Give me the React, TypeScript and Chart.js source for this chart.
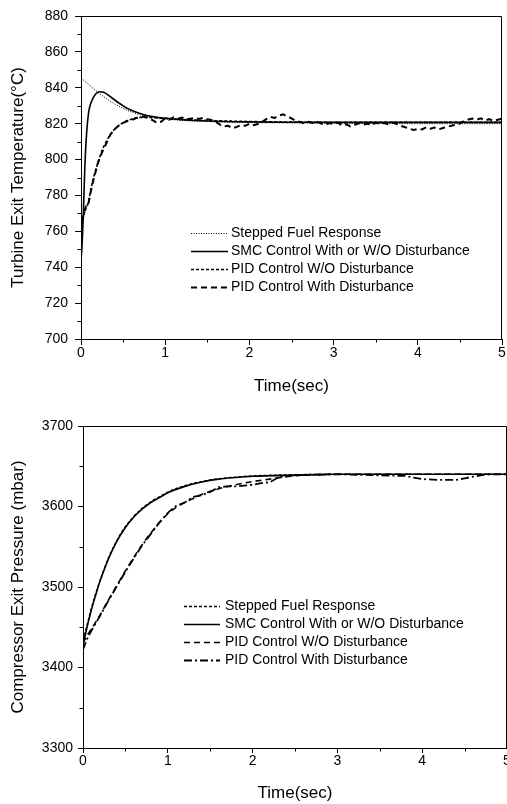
import React, { useEffect, useRef } from 'react';
import { Chart, registerables } from 'chart.js';

Chart.register(...registerables);

const FONT = "'Liberation Sans', Arial, Helvetica, sans-serif";

// ---------- Top chart: turbine exit temperature ----------
const tempTitle = 'Turbine Exit Temperature(°C)';
const timeTitle = 'Time(sec)';
const timeTicks = [0, 1, 2, 3, 4, 5];
const timeMinorTicks = [0.5, 1.5, 2.5, 3.5, 4.5];
const tempTicks = [700, 720, 740, 760, 780, 800, 820, 840, 860, 880];
const tempMinorTicks = [710, 730, 750, 770, 790, 810, 830, 850, 870];

const tempLabels = [
  'Stepped Fuel Response',
  'SMC Control With or W/O Disturbance',
  'PID Control W/O Disturbance',
  'PID Control With Disturbance',
];

const stepTime = [0, 0.1, 0.2, 0.3, 0.4, 0.5, 0.6, 0.7, 0.8, 0.9, 1.0, 1.2, 1.5, 2, 2.5, 3, 4, 5];
const stepTemp = [845.5, 841.5, 837.5, 834, 831, 828.5, 826.5, 825, 824, 823.2, 822.6, 821.8, 821.2, 820.6, 820.4, 820.2, 820, 820];

const smcTime = [0, 0.01, 0.02, 0.03, 0.045, 0.067, 0.09, 0.107, 0.146, 0.18, 0.22, 0.27, 0.35, 0.45, 0.55, 0.65, 0.75, 0.85, 1.0, 1.2, 1.5, 2, 2.5, 3, 4, 5];
const smcTemp = [744, 750, 760, 773, 795, 815, 826, 830, 834.5, 836.8, 837.8, 837.5, 835, 831.5, 828.5, 826.5, 825, 824, 823, 822.2, 821.5, 821, 820.8, 820.7, 820.7, 820.7];

const pidTime = [0, 0.02, 0.04, 0.06, 0.08, 0.1, 0.12, 0.15, 0.2, 0.25, 0.3, 0.35, 0.4, 0.45, 0.5, 0.6, 0.7, 0.8, 0.9, 1.0, 1.2, 1.5, 2, 2.5, 3, 4, 5];
const pidTemp = [758, 766, 770, 773, 775, 779, 784, 790, 798, 805, 810, 814, 817, 819, 820.5, 822.5, 823.5, 823.5, 823.2, 823, 822.3, 821.8, 821.2, 820.9, 820.7, 820.7, 820.7];

const pidDistTime = [
  0, 0.02, 0.04, 0.06, 0.08, 0.1, 0.12, 0.15, 0.2, 0.25, 0.3, 0.35, 0.4, 0.45, 0.5, 0.55, 0.6, 0.65, 0.7, 0.75, 0.8, 0.85, 0.9, 0.95,
  1.0, 1.05, 1.1, 1.15, 1.2, 1.25, 1.3, 1.35, 1.4, 1.45, 1.5, 1.55, 1.6, 1.65, 1.7, 1.75, 1.8, 1.85, 1.9, 1.95,
  2.0, 2.05, 2.1, 2.15, 2.2, 2.25, 2.3, 2.35, 2.4, 2.45, 2.5, 2.55, 2.6, 2.65, 2.7, 2.75, 2.8, 2.85, 2.9, 2.95,
  3.0, 3.05, 3.1, 3.15, 3.2, 3.25, 3.3, 3.35, 3.4, 3.45, 3.5, 3.55, 3.6, 3.65, 3.7, 3.75, 3.8, 3.85, 3.9, 3.95,
  4.0, 4.05, 4.1, 4.15, 4.2, 4.25, 4.3, 4.35, 4.4, 4.45, 4.5, 4.55, 4.6, 4.65, 4.7, 4.75, 4.8, 4.85, 4.9, 4.95, 5.0,
];
const pidDistTemp = [
  760, 767, 771, 774, 774, 778, 783, 789, 798, 804, 809, 814, 817, 819, 820.5, 821.5, 822, 823, 823.5, 824, 823, 822, 820.5, 821,
  823, 822.2, 823.5, 822.8, 823.4, 822.3, 822.8, 823.2, 822.6, 823.3, 822.4, 822, 821, 819.5, 818.5, 818.8, 817.5, 818.2, 819.2, 818.8,
  820, 819.2, 819.8, 821, 822.5, 823.8, 823.2, 824.5, 825.2, 824, 823, 821.5, 821, 820.2, 821, 820.4, 821.2, 820, 819.4, 820.3,
  819.8, 820.6, 819, 819.6, 818.5, 819.4, 820.2, 819.5, 820, 819.2, 820.5, 819.8, 820.4, 819.6, 820.6, 819.8, 818.8, 818, 817.2, 816.5,
  817, 816.8, 818, 817.2, 817.8, 816.9, 817.6, 818.3, 818.8, 819.5, 820, 821.5, 822.3, 822.8, 822.2, 823, 821.8, 822.5, 821.5, 822.2, 822.8,
];

// ---------- Bottom chart: compressor exit pressure ----------
const pressTitle = 'Compressor Exit Pressure (mbar)';
const pressTicks = [3300, 3400, 3500, 3600, 3700];
const pressMinorTicks = [3350, 3450, 3550, 3650];

const pressLabels = [
  'Stepped Fuel Response',
  'SMC Control With or W/O Disturbance',
  'PID Control W/O Disturbance',
  'PID Control With Disturbance',
];

const pressFastTime = [0, 0.05, 0.1, 0.15, 0.2, 0.3, 0.4, 0.5, 0.6, 0.7, 0.8, 0.9, 1.0, 1.2, 1.4, 1.6, 1.8, 2.0, 2.5, 3, 4, 5];
const pressStep = [3434, 3454, 3474, 3492, 3508, 3536, 3558, 3575, 3588, 3598, 3606, 3612, 3618, 3626, 3631, 3634.5, 3636.5, 3638, 3639.5, 3640, 3640, 3640];
const pressSmc = [3428, 3451, 3472, 3490, 3507, 3535, 3557, 3574, 3587, 3597, 3605, 3611, 3617, 3625, 3630.5, 3634, 3636, 3637.5, 3639, 3640, 3640, 3640];

const pressPidTime = [0, 0.05, 0.1, 0.2, 0.3, 0.4, 0.5, 0.6, 0.7, 0.8, 0.9, 1.0, 1.1, 1.2, 1.3, 1.4, 1.6, 1.8, 2.0, 2.2, 2.4, 2.6, 3, 4, 5];
const pressPid = [3430, 3440, 3448, 3465, 3484, 3502, 3520, 3537, 3553, 3567, 3580, 3591, 3599, 3605, 3610, 3615, 3622, 3627, 3631, 3634, 3637, 3639, 3640, 3640, 3640];

const pressPidDistTime = [0, 0.05, 0.1, 0.2, 0.3, 0.4, 0.5, 0.6, 0.7, 0.8, 0.9, 1.0, 1.1, 1.2, 1.3, 1.4, 1.5, 1.6, 1.7, 1.8, 1.9, 2.0, 2.1, 2.2, 2.3, 2.4, 2.6, 3.0, 3.4, 3.8, 3.9, 4.0, 4.2, 4.4, 4.5, 4.6, 4.7, 4.8, 5.0];
const pressPidDist = [3422, 3436, 3446, 3464, 3483, 3501, 3519, 3536, 3552, 3566, 3580, 3592, 3601, 3605, 3612, 3614, 3618, 3624, 3625, 3625, 3626, 3627, 3629, 3630, 3636, 3638, 3639, 3640, 3639, 3638, 3636, 3634, 3633, 3633, 3635, 3637, 3639, 3640, 3640];

// ---------- helpers ----------
const pts = (xs: number[], ys: number[]) => xs.map((x, i) => ({ x, y: ys[i] }));

const framePlugin = {
  id: 'frame',
  afterDraw(chart: any) {
    const { ctx, chartArea: a } = chart;
    ctx.save();
    ctx.strokeStyle = '#000';
    ctx.lineWidth = 1;
    ctx.setLineDash([]);
    const t = Math.round(a.top) + 0.5;
    const r = Math.round(a.right) - 0.5;
    ctx.beginPath();
    ctx.moveTo(a.left, t);
    ctx.lineTo(r, t);
    ctx.lineTo(r, a.bottom);
    ctx.stroke();
    ctx.restore();
  },
};

const minorTickPlugin = {
  id: 'minorTicks',
  afterDraw(chart: any, _args: any, opts: any) {
    const { ctx, chartArea: a, scales } = chart;
    ctx.save();
    ctx.strokeStyle = '#000';
    ctx.lineWidth = 1;
    ctx.setLineDash([]);
    ctx.beginPath();
    for (const v of opts.x || []) {
      const px = Math.round(scales.x.getPixelForValue(v)) + 0.5;
      ctx.moveTo(px, a.bottom);
      ctx.lineTo(px, a.bottom + opts.len);
    }
    for (const v of opts.y || []) {
      const py = Math.round(scales.y.getPixelForValue(v)) + 0.5;
      ctx.moveTo(a.left, py);
      ctx.lineTo(a.left - opts.len, py);
    }
    ctx.stroke();
    ctx.restore();
  },
};

const innerLegendPlugin = {
  id: 'innerLegend',
  afterDraw(chart: any, _args: any, opts: any) {
    const { ctx, chartArea: a } = chart;
    chart.data.datasets.forEach((ds: any, i: number) => {
      const y = Math.round(a.top + opts.y + i * opts.row) + 0.5;
      const x0 = a.left + opts.x;
      ctx.save();
      ctx.strokeStyle = '#000';
      ctx.lineWidth = ds.borderWidth;
      ctx.setLineDash(ds.borderDash || []);
      ctx.beginPath();
      ctx.moveTo(x0, y);
      ctx.lineTo(x0 + opts.len, y);
      ctx.stroke();
      ctx.setLineDash([]);
      ctx.fillStyle = '#000';
      ctx.font = `14px ${FONT}`;
      ctx.textBaseline = 'middle';
      ctx.fillText(ds.label, x0 + opts.len + opts.gap, y);
      ctx.restore();
    });
  },
};

function makeScales(o: any) {
  return {
    x: {
      type: 'linear',
      min: 0,
      max: 5,
      afterBuildTicks: (s: any) => {
        s.ticks = timeTicks.map((v) => ({ value: v }));
      },
      ticks: {
        color: '#000', font: { family: FONT, size: 14 }, padding: o.xPad, maxRotation: 0, autoSkip: false,
        callback: (v: any) => String(v),
      },
      grid: { drawOnChartArea: false, color: '#000', tickLength: o.tick },
      border: { display: true, color: '#000', width: 1 },
      title: { display: true, text: timeTitle, color: '#000', font: { family: FONT, size: 17 }, padding: { top: 0, bottom: o.xTitlePad } },
      afterFit: (s: any) => {
        s.height = o.xHeight;
        s.paddingLeft = 0;
        s.paddingRight = 0;
      },
    },
    y: {
      type: 'linear',
      min: o.yMin,
      max: o.yMax,
      afterBuildTicks: (s: any) => {
        s.ticks = o.yTicks.map((v: number) => ({ value: v }));
      },
      ticks: {
        color: '#000', font: { family: FONT, size: 14 }, padding: o.yPad, autoSkip: false,
        callback: (v: any) => String(v),
      },
      grid: { drawOnChartArea: false, color: '#000', tickLength: o.tick },
      border: { display: true, color: '#000', width: 1 },
      title: { display: true, text: o.yTitle, color: '#000', font: { family: FONT, size: 17 }, padding: { top: 8, bottom: 0 } },
      afterFit: (s: any) => {
        s.width = o.yWidth;
        s.paddingTop = 0;
        s.paddingBottom = 0;
      },
    },
  };
}

const line = (label: string, data: any[], width: number, dash: number[], smooth: boolean) => ({
  label,
  data,
  borderColor: '#000',
  backgroundColor: '#000',
  borderWidth: width,
  borderDash: dash,
  pointRadius: 0,
  fill: false,
  tension: smooth ? 0.4 : 0,
  cubicInterpolationMode: smooth ? 'monotone' : 'default',
});

function tempConfig(): any {
  return {
    type: 'line',
    data: {
      datasets: [
        line(tempLabels[0], pts(stepTime, stepTemp), 1, [1, 1.5], true),
        line(tempLabels[1], pts(smcTime, smcTemp), 1.6, [], true),
        line(tempLabels[2], pts(pidTime, pidTemp), 1.6, [3, 2], true),
        line(tempLabels[3], pts(pidDistTime, pidDistTemp), 2, [6, 4], false),
      ],
    },
    options: {
      animation: false,
      responsive: false,
      layout: { padding: { left: 0, right: 5, top: 16, bottom: 0 } },
      scales: makeScales({
        yMin: 700, yMax: 880, yTicks: tempTicks, yTitle: tempTitle,
        tick: 6, xPad: 0, yPad: 7, xHeight: 61, yWidth: 81, xTitlePad: 3,
      }),
      plugins: {
        legend: { display: false },
        tooltip: { enabled: false },
        minorTicks: { x: timeMinorTicks, y: tempMinorTicks, len: 3.5 },
        innerLegend: { x: 110, y: 217, row: 18, len: 37, gap: 3 },
      },
    },
    plugins: [framePlugin, minorTickPlugin, innerLegendPlugin],
  };
}

function pressConfig(): any {
  return {
    type: 'line',
    data: {
      datasets: [
        line(pressLabels[0], pts(pressFastTime, pressStep), 1.3, [3, 2], true),
        line(pressLabels[1], pts(pressFastTime, pressSmc), 1.6, [], true),
        line(pressLabels[2], pts(pressPidTime, pressPid), 1.6, [6, 4], true),
        line(pressLabels[3], pts(pressPidDistTime, pressPidDist), 1.8, [8, 3, 2, 3], false),
      ],
    },
    options: {
      animation: false,
      responsive: false,
      layout: { padding: { left: 0, right: 0, top: 26, bottom: 0 } },
      scales: makeScales({
        yMin: 3300, yMax: 3700, yTicks: pressTicks, yTitle: pressTitle,
        tick: 5, xPad: 0, yPad: 5, xHeight: 56, yWidth: 83, xTitlePad: 0,
      }),
      plugins: {
        legend: { display: false },
        tooltip: { enabled: false },
        minorTicks: { x: timeMinorTicks, y: pressMinorTicks, len: 3.5 },
        innerLegend: { x: 101, y: 180, row: 18, len: 36, gap: 5 },
      },
    },
    plugins: [framePlugin, minorTickPlugin, innerLegendPlugin],
  };
}

function ChartCanvas({ make, height }: { make: () => any; height: number }) {
  const ref = useRef<HTMLCanvasElement>(null);
  useEffect(() => {
    const chart = new Chart(ref.current as HTMLCanvasElement, make());
    return () => chart.destroy();
  }, []);
  return <canvas ref={ref} width={507} height={height} style={{ display: 'block', width: 507, height }} />;
}

export default function App() {
  return (
    <div style={{ position: 'absolute', left: 0, top: 0, width: 507, height: 804, background: '#fff' }}>
      <ChartCanvas make={tempConfig} height={400} />
      <ChartCanvas make={pressConfig} height={404} />
    </div>
  );
}
